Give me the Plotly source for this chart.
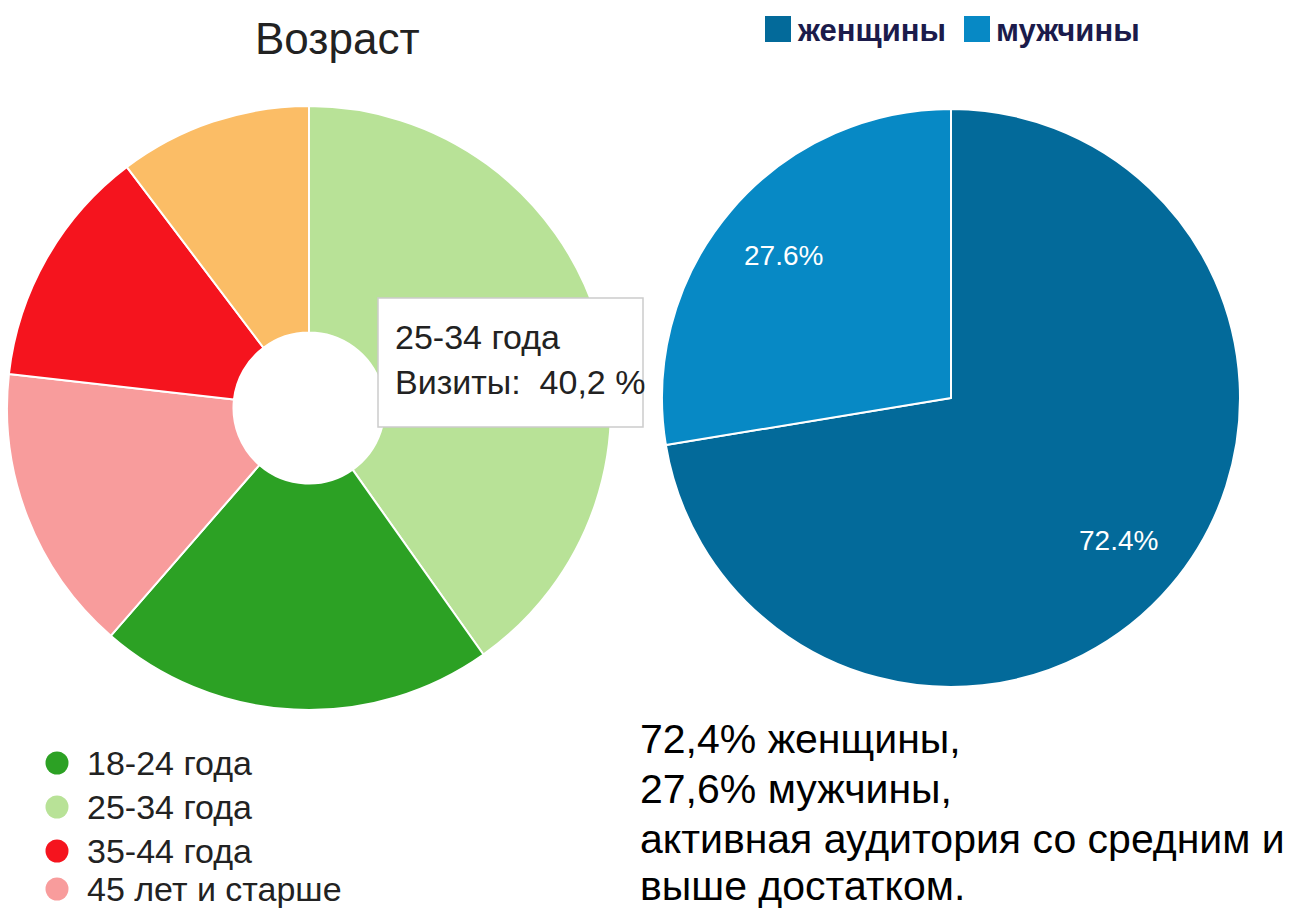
import math
import plotly.graph_objects as go

# ---- data ----
age_labels = ["25-34 года", "18-24 года", "45 лет и старше", "35-44 года", "младше 18 лет"]
age_values = [40.2, 21.2, 15.4, 12.9, 10.3]
age_colors = ["#B8E297", "#2CA124", "#F89C9C", "#F5141E", "#FBBD66"]

legend_labels = ["18-24 года", "25-34 года", "35-44 года", "45 лет и старше"]
legend_colors = ["#2CA124", "#B8E297", "#F5141E", "#F89C9C"]

gender_labels = ["женщины", "мужчины"]
gender_values = [72.4, 27.6]
gender_colors = ["#036A9A", "#0789C5"]

summary_lines = ["72,4% женщины,", "27,6% мужчины,",
                 "активная аудитория со средним и", "выше достатком."]

W, H = 1310, 910
FONT = "Liberation Sans, Arial, sans-serif"


def dom(cx, cy, r):
    return dict(x=[(cx - r) / W, (cx + r) / W], y=[1 - (cy + r) / H, 1 - (cy - r) / H])


fig = go.Figure()

LCX, LCY, LR = 309, 408, 302
RCX, RCY, RR = 951, 398, 289

fig.add_trace(go.Pie(
    labels=age_labels, values=age_values, sort=False, direction="clockwise",
    rotation=0, hole=0.25, marker=dict(colors=age_colors, line=dict(color="white", width=2)),
    textinfo="none", hoverinfo="skip", showlegend=False, domain=dom(LCX, LCY, LR)))

fig.add_trace(go.Pie(
    labels=gender_labels, values=gender_values, sort=False, direction="clockwise",
    rotation=0, marker=dict(colors=gender_colors, line=dict(color="white", width=2)),
    textinfo="none", hoverinfo="skip", showlegend=False, domain=dom(RCX, RCY, RR)))

# custom legend markers (pixel axes)
leg_y = [763, 807, 851, 889]
fig.add_trace(go.Scatter(
    x=[57] * len(legend_labels), y=leg_y, mode="markers",
    marker=dict(size=23, color=legend_colors, symbol="circle", line=dict(width=0)),
    hoverinfo="skip", showlegend=False))
fig.add_trace(go.Scatter(
    x=[778, 977], y=[29, 29], mode="markers",
    marker=dict(size=26, color=gender_colors, symbol="square", line=dict(width=0)),
    hoverinfo="skip", showlegend=False))

annotations = []
annotations.append(dict(x=337, y=38, xref="x", yref="y", text="Возраст", showarrow=False,
                        font=dict(family=FONT, size=44, color="#222222"),
                        xanchor="center", yanchor="middle"))
for lab, yy in zip(legend_labels, leg_y):
    annotations.append(dict(x=85, y=yy, xref="x", yref="y", text=lab, showarrow=False,
                            font=dict(family=FONT, size=34, color="#222222"),
                            xanchor="left", yanchor="middle"))
for lab, xx in zip(gender_labels, [795, 994]):
    annotations.append(dict(x=xx, y=30, xref="x", yref="y", text="<b>" + lab + "</b>", showarrow=False,
                            font=dict(family=FONT, size=31, color="#1B1B4B"),
                            xanchor="left", yanchor="middle"))

# percentage labels inside the gender pie, placed on slice bisectors
total = sum(gender_values)
cum = 0.0
for v in gender_values:
    frac = (cum + v / 2) / total
    th = 2 * math.pi * frac
    annotations.append(dict(x=RCX + 0.76 * RR * math.sin(th), y=RCY - 0.76 * RR * math.cos(th),
                            xref="x", yref="y", text=f"{v / total * 100:.1f}%", showarrow=False,
                            font=dict(family=FONT, size=28, color="white"),
                            xanchor="center", yanchor="middle"))
    cum += v

# tooltip
annotations.append(dict(x=393, y=337, xref="x", yref="y", text=age_labels[0], showarrow=False,
                        font=dict(family=FONT, size=34, color="#222222"),
                        xanchor="left", yanchor="middle"))
annotations.append(dict(x=393, y=382, xref="x", yref="y",
                        text="Визиты:  " + f"{age_values[0]:.1f}".replace(".", ",") + " %",
                        showarrow=False,
                        font=dict(family=FONT, size=34, color="#222222"),
                        xanchor="left", yanchor="middle"))
for line, yy in zip(summary_lines, [739, 789, 839, 886]):
    annotations.append(dict(x=638, y=yy, xref="x", yref="y", text=line, showarrow=False,
                            font=dict(family=FONT, size=41, color="#000000"),
                            xanchor="left", yanchor="middle"))

fig.update_layout(
    width=W, height=H, margin=dict(l=0, r=0, t=0, b=0),
    paper_bgcolor="white", plot_bgcolor="rgba(0,0,0,0)",
    xaxis=dict(range=[0, W], visible=False, domain=[0, 1], fixedrange=True),
    yaxis=dict(range=[H, 0], visible=False, domain=[0, 1], fixedrange=True),
    shapes=[dict(type="rect", xref="x", yref="y", x0=378, x1=643, y0=298, y1=427,
                 fillcolor="white", line=dict(color="#CCCCCC", width=1.5), layer="above")],
    annotations=annotations,
)

fig.write_html("out.html", config={"displayModeBar": False},
               post_script="document.body.style.margin='0';document.body.style.overflow='hidden';")
